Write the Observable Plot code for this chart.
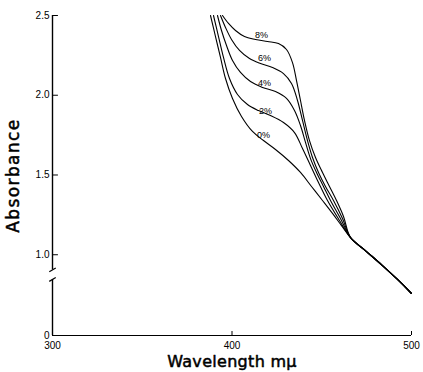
<!DOCTYPE html>
<html><head><meta charset="utf-8">
<script src="https://cdn.jsdelivr.net/npm/d3@7"></script>
<script src="https://cdn.jsdelivr.net/npm/@observablehq/plot@0.6"></script>
<style>html,body{margin:0;padding:0;background:#fff}</style>
</head><body><div id="chart"></div>
<script>
const series = ["0%", "2%", "4%", "6%", "8%"];

const wl0 = [388.02, 390.81, 393.59, 396.38, 400.28, 405.29, 411.42, 417.55, 424.23, 431.48, 438.16, 444.29, 450.42, 455.99, 461.00, 466.02];
const ab0 = [2.500, 2.368, 2.237, 2.105, 1.980, 1.867, 1.773, 1.716, 1.660, 1.591, 1.516, 1.428, 1.340, 1.259, 1.183, 1.108];

const wl2 = [389.69, 392.48, 395.26, 398.61, 403.06, 408.63, 414.76, 421.45, 428.69, 434.82, 439.28, 443.73, 448.19, 453.20, 459.89, 466.02];
const ab2 = [2.500, 2.368, 2.237, 2.105, 2.005, 1.942, 1.904, 1.873, 1.829, 1.766, 1.666, 1.560, 1.453, 1.340, 1.215, 1.108];

const wl4 = [391.92, 394.15, 396.94, 400.28, 404.73, 410.31, 416.99, 424.23, 430.36, 434.82, 438.16, 440.95, 443.73, 447.07, 450.97, 454.87, 460.44, 466.02];
const ab4 = [2.500, 2.406, 2.312, 2.218, 2.143, 2.086, 2.049, 2.023, 1.980, 1.904, 1.810, 1.704, 1.603, 1.516, 1.428, 1.340, 1.227, 1.108];

const wl6 = [393.59, 396.38, 399.72, 404.18, 409.75, 415.88, 422.56, 428.69, 433.15, 436.49, 439.28, 442.06, 444.85, 448.19, 452.08, 456.54, 461.56, 466.02];
const ab6 = [2.500, 2.425, 2.350, 2.281, 2.230, 2.199, 2.174, 2.136, 2.074, 1.967, 1.842, 1.716, 1.610, 1.516, 1.428, 1.340, 1.227, 1.108];

const wl8 = [394.71, 398.05, 401.95, 406.96, 413.09, 419.78, 425.90, 430.36, 433.70, 435.94, 438.16, 440.39, 443.17, 446.52, 450.42, 454.31, 458.22, 462.12, 466.02];
const ab8 = [2.500, 2.450, 2.406, 2.368, 2.350, 2.337, 2.324, 2.287, 2.205, 2.092, 1.967, 1.842, 1.716, 1.610, 1.516, 1.428, 1.340, 1.240, 1.108];

// common tail where all curves coincide
const tailWl = [474.93, 483.84, 492.20, 500.0];
const tailAb = [1.020, 0.932, 0.845, 0.757];

// curve label anchor positions (data units)
const labelWl = [417.5, 418.7, 418.1, 418.1, 416.4];
const labelAb = [1.748, 1.898, 2.074, 2.230, 2.375];

const xTicks = [300, 400, 500];
const yTicks = [0, 1.0, 1.5, 2.0, 2.5];
const yTickLabels = ["0", "1.0", "1.5", "2.0", "2.5"];
const axisBreak = [0.845, 0.905];

// broken axis: values below 0.7 are compressed into a short segment
const breakTop = 0.7, lowBase = 0.4937;
const brk = v => v >= breakTop ? v : lowBase + v * (breakTop - lowBase) / breakTop;

const wls = [wl0, wl2, wl4, wl6, wl8];
const abs = [ab0, ab2, ab4, ab6, ab8];
const rows = [];
series.forEach((s, i) => {
  wls[i].forEach((w, j) => rows.push({series: s, wl: w, ab: abs[i][j]}));
  tailWl.forEach((w, j) => rows.push({series: s, wl: w, ab: tailAb[j]}));
});
const labels = series.map((s, i) => ({series: s, wl: labelWl[i], ab: labelAb[i]}));
const tickLabelMap = new Map(yTicks.map((t, i) => [brk(t), yTickLabels[i]]));

const titleFont = "'DejaVu Sans', Verdana, sans-serif";

const chart = Plot.plot({
  width: 423,
  height: 372,
  marginLeft: 52,
  marginRight: 12,
  marginTop: 15,
  marginBottom: 37,
  style: {fontFamily: "'Liberation Sans', Arial, sans-serif", background: "#fff", color: "#000"},
  x: {domain: [300, 500]},
  y: {domain: [lowBase, 2.5]},
  marks: [
    // axis lines
    Plot.ruleY([brk(0)], {stroke: "#000", strokeWidth: 1.2}),
    Plot.ruleX([300], {y1: brk(0), y2: axisBreak[0], stroke: "#000", strokeWidth: 1.4}),
    Plot.ruleX([300], {y1: axisBreak[1], y2: 2.5, stroke: "#000", strokeWidth: 1.4}),
    Plot.link(axisBreak, {x1: 298.2, x2: 301.8, y1: d => d - 0.012, y2: d => d + 0.012, stroke: "#000", strokeWidth: 1.2}),
    // inward ticks
    Plot.ruleY(yTicks.filter(d => d > 0), {y: d => brk(d), x1: 300, x2: 303.3, stroke: "#000", strokeWidth: 1}),
    Plot.ruleX(xTicks.filter(d => d > 300), {x: d => d, y1: brk(0), y2: brk(0.085), stroke: "#000", strokeWidth: 1}),
    Plot.axisY({ticks: yTicks.map(brk), tickSize: 0, tickPadding: 3, fontSize: 10, label: null,
      tickFormat: d => tickLabelMap.get(d)}),
    Plot.axisX({ticks: xTicks, tickSize: 0, tickPadding: 6, fontSize: 10, label: null,
      tickFormat: d => String(d)}),
    // curves
    Plot.line(rows, {x: "wl", y: d => brk(d.ab), z: "series", curve: "catmull-rom", stroke: "#000", strokeWidth: 1.1}),
    Plot.text(labels, {x: "wl", y: "ab", text: "series", fontSize: 9, fill: "#000"}),
    // axis titles
    Plot.text(["Wavelength m\u03bc"], {frameAnchor: "bottom", lineAnchor: "middle", textAnchor: "middle", dy: 26,
      fontSize: 16, fontFamily: titleFont, fill: "#000", stroke: "#000", strokeWidth: 0.5, className: "xtitle"}),
    Plot.text(["Absorbance"], {frameAnchor: "left", lineAnchor: "middle", textAnchor: "middle", dx: -39, rotate: -90,
      fontSize: 17, fontFamily: titleFont, fill: "#000", stroke: "#000", strokeWidth: 0.5, className: "ytitle"})
  ]
});
// widen title letter spacing to match the original lettering
d3.select(chart).selectAll("text").filter(function() { return this.textContent === "Absorbance"; })
  .attr("letter-spacing", "1.4px");
d3.select(chart).selectAll("text").filter(function() { return this.textContent === "Wavelength m\u03bc"; })
  .attr("letter-spacing", "0.3px");
document.getElementById("chart").appendChild(chart);
</script>
</body></html>
